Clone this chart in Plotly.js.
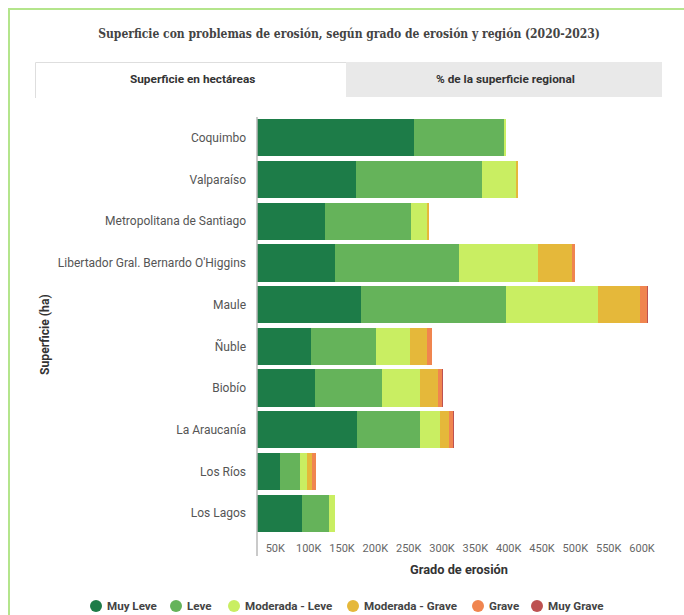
<!DOCTYPE html>
<html>
<head>
<meta charset="utf-8">
<script src="https://cdn.plot.ly/plotly-3.0.1.min.js"></script>
<style>
  html, body { margin: 0; padding: 0; background: #ffffff; }
  #wrap { position: relative; width: 684px; height: 615px; overflow: hidden; }
  #frame { position: absolute; left: 8px; top: 8px; width: 700px; height: 640px;
           border: 2px solid #b4e58c; box-sizing: border-box; }
  #chart { position: absolute; left: 0; top: 0; width: 684px; height: 615px; }
</style>
</head>
<body>
<div id="wrap">
  <div id="frame"></div>
  <div id="chart"></div>
</div>
<script>
// ---- Data ----
const regions = [
  "Coquimbo",
  "Valparaíso",
  "Metropolitana de Santiago",
  "Libertador Gral. Bernardo O'Higgins",
  "Maule",
  "Ñuble",
  "Biobío",
  "La Araucanía",
  "Los Ríos",
  "Los Lagos"
];
const seriesNames = ["Muy Leve", "Leve", "Moderada - Leve", "Moderada - Grave", "Grave", "Muy Grave"];
const seriesColors = ["#1d7c48", "#65b35a", "#c9ee62", "#e5b83a", "#f0854f", "#bd5252"];

const muyLeve       = [235000, 148000, 102600, 116500, 156600,  81600,  87000, 150000, 34000, 67500];
const leve          = [135000, 189000, 128000, 186500, 216500,  96500, 100000,  95000, 30000, 41000];
const moderadaLeve  = [  3000,  51000,  25000, 119000, 138500,  51000,  58000,  29000, 11000,  8500];
const moderadaGrave = [     0,   4000,   2000,  50000,  63600,  26500,  26500,  14000,  7000,   500];
const grave         = [     0,      0,    300,   5000,   9900,   6500,   6000,   6000,  6000,     0];
const muyGrave      = [     0,      0,      0,    500,   1200,    800,    800,   1200,   800,     0];
const seriesValues = [muyLeve, leve, moderadaLeve, moderadaGrave, grave, muyGrave];

const tickValues = [50000, 100000, 150000, 200000, 250000, 300000, 350000, 400000, 450000, 500000, 550000, 600000];
const tickLabels = ["50K", "100K", "150K", "200K", "250K", "300K", "350K", "400K", "450K", "500K", "550K", "600K"];

const chartTitle = "Superficie con problemas de erosión, según grado de erosión y región (2020-2023)";
const tabLabels = ["Superficie en hectáreas", "% de la superficie regional"];
const xTitle = "Grado de erosión";
const yTitle = "Superficie (ha)";

// ---- Geometry helpers (pixel -> paper) ----
const W = 684, H = 615;
const mL = 257, mR = 17, mT = 117, mB = 81;
const pw = W - mL - mR, ph = H - mT - mB;
const px = x => (x - mL) / pw;
const py = y => (H - mB - y) / ph;

const traces = seriesNames.map((name, i) => ({
  type: "bar",
  orientation: "h",
  name: name,
  y: regions,
  x: seriesValues[i],
  marker: { color: seriesColors[i], line: { width: 0 } },
  showlegend: false,
  hoverinfo: "x+y+name"
}));

const font = "Roboto, 'Open Sans', sans-serif";

const shapes = [
  // tab bar background
  { type: "rect", xref: "paper", yref: "paper", x0: px(35), x1: px(662), y0: py(97), y1: py(62),
    fillcolor: "#e9e9e9", line: { width: 0 }, layer: "below" },
  // active tab
  { type: "rect", xref: "paper", yref: "paper", x0: px(35), x1: px(346), y0: py(98), y1: py(62),
    fillcolor: "#ffffff", line: { width: 0 }, layer: "below" },
  { type: "path", xref: "paper", yref: "paper",
    path: `M ${px(35.5)},${py(98)} L ${px(35.5)},${py(62.5)} L ${px(346)},${py(62.5)}`,
    line: { color: "#dedede", width: 1 } },
  // y axis line
  { type: "line", xref: "paper", yref: "paper", x0: px(257), x1: px(257), y0: py(117), y1: py(556),
    line: { color: "#b8b8b8", width: 1.5 } }
];

const annotations = [
  { text: "<b>" + tabLabels[0] + "</b>", xref: "paper", yref: "paper", x: px(192), y: py(79.5),
    showarrow: false, xanchor: "center", yanchor: "middle", font: { family: font, size: 11.8, color: "#333" } },
  { text: "<b>" + tabLabels[1] + "</b>", xref: "paper", yref: "paper", x: px(505), y: py(79.5),
    showarrow: false, xanchor: "center", yanchor: "middle", font: { family: font, size: 11.8, color: "#333" } },
  { text: "<b>" + xTitle + "</b>", xref: "paper", yref: "paper", x: px(459), y: py(569),
    showarrow: false, xanchor: "center", yanchor: "middle", font: { family: font, size: 12.8, color: "#333" } },
  { text: "<b>" + yTitle + "</b>", xref: "paper", yref: "paper", x: px(45), y: py(335), textangle: -90,
    showarrow: false, xanchor: "center", yanchor: "middle", font: { family: font, size: 12.2, color: "#333" } }
];

// legend (circle markers + labels)
const legendMarkerX = [96, 176, 234, 353, 478, 537];
const legendY = 606;
seriesNames.forEach((name, i) => {
  shapes.push({ type: "circle", xref: "paper", yref: "paper", xsizemode: "pixel", ysizemode: "pixel",
    xanchor: px(legendMarkerX[i]), yanchor: py(legendY), x0: -6, x1: 6, y0: -6, y1: 6,
    fillcolor: seriesColors[i], line: { width: 0 } });
  annotations.push({ text: "<b>" + name + "</b>", xref: "paper", yref: "paper",
    x: px(legendMarkerX[i] + 9), y: py(legendY), showarrow: false, xanchor: "left", yanchor: "middle",
    font: { family: font, size: 11.6, color: "#444" } });
});

const layout = {
  width: W, height: H,
  margin: { l: mL, r: mR, t: mT, b: mB, pad: 0 },
  paper_bgcolor: "rgba(0,0,0,0)",
  plot_bgcolor: "rgba(0,0,0,0)",
  barmode: "stack",
  bargap: 0.11,
  showlegend: false,
  title: { text: "<b>" + chartTitle + "</b>", xref: "container", yref: "container",
    x: 349 / W, y: 1 - 34 / H, xanchor: "center", yanchor: "middle",
    font: { family: "'DejaVu Serif Condensed', 'DejaVu Serif', serif", size: 12, color: "#444" } },
  xaxis: {
    range: [0, pw * 1.5 * 1000],
    tickvals: tickValues, ticktext: tickLabels,
    ticklabelshift: -15, ticklabelstandoff: 6,
    showgrid: false, zeroline: false, showline: false, ticks: "",
    tickfont: { family: font, size: 11, color: "#666" },
    fixedrange: true
  },
  yaxis: {
    type: "category", autorange: "reversed",
    showgrid: false, zeroline: false, showline: false, ticks: "",
    ticklabelstandoff: 10,
    tickfont: { family: font, size: 12, color: "#555" },
    fixedrange: true
  },
  shapes: shapes,
  annotations: annotations
};

Plotly.newPlot("chart", traces, layout, { displayModeBar: false, staticPlot: true });
</script>
</body>
</html>
